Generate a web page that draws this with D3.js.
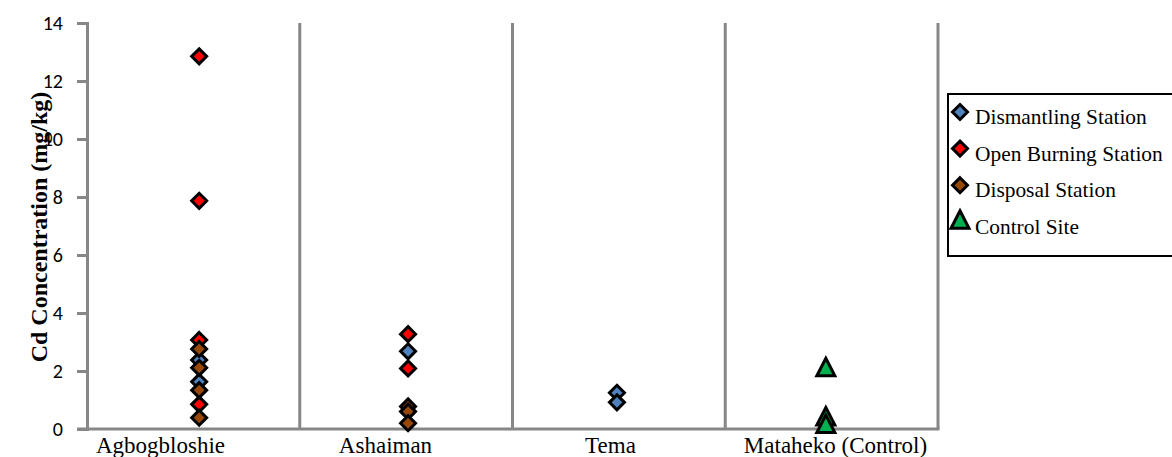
<!DOCTYPE html>
<html>
<head>
<meta charset="utf-8">
<script src="https://cdn.jsdelivr.net/npm/d3@7"></script>
<style>
  html, body { margin: 0; padding: 0; background: #fff; }
  svg { display: block; }
</style>
</head>
<body>
<svg id="chart" width="1172" height="457"></svg>
<script>
// ---- data ----
const categories = ["Agbogbloshie", "Ashaiman", "Tema", "Mataheko (Control)"];
const yTicks = [0, 2, 4, 6, 8, 10, 12, 14];
const seriesNames = ["Dismantling Station", "Open Burning Station", "Disposal Station", "Control Site"];
const seriesColors = ["#4F81BD", "#FF0000", "#974706", "#00B050"];
const seriesShapes = ["diamond", "diamond", "diamond", "triangle"];
// Cd values (mg/kg) per category, one array per series
const dismantlingCd = [[2.38, 1.63], [2.68], [1.25, 0.92], []];
const openBurningCd = [[12.85, 7.87, 3.07, 0.85], [3.27, 2.09], [], []];
const disposalCd    = [[2.76, 2.11, 1.34, 0.39], [0.78, 0.6, 0.2], [], []];
const controlCd     = [[], [], [], [2.06, 0.36, 0.1]];
const seriesValues = [dismantlingCd, openBurningCd, disposalCd, controlCd];

// ---- layout ----
const svg = d3.select("#chart");
const mLeft = 87, mRight = 938, mTop = 23, mBottom = 429;
const gray = "#878787";
const serif = "'Liberation Serif', 'Times New Roman', serif";

const y = d3.scaleLinear().domain([0, 14]).range([mBottom, mTop]);
const xBand = d3.scaleBand().domain(categories).range([mLeft, mRight]).padding(0);
const xPt = d3.scalePoint().domain(categories).range([mLeft, mRight]).padding(0.537);
const xLabel = d3.scaleBand().domain(categories).range([48, 948]).padding(0);

// separators (category boundaries)
svg.append("g").selectAll("line")
  .data(categories)
  .join("line")
  .attr("x1", d => xBand(d) + xBand.bandwidth())
  .attr("x2", d => xBand(d) + xBand.bandwidth())
  .attr("y1", mTop).attr("y2", mBottom)
  .attr("stroke", gray).attr("stroke-width", 3);

// y axis
const yAxis = d3.axisLeft(y).tickValues(yTicks).tickSize(10).tickPadding(14).tickFormat(d3.format("d"));
const gy = svg.append("g").attr("transform", `translate(${mLeft},0)`).call(yAxis);
gy.select(".domain").attr("stroke", gray).attr("stroke-width", 3);
gy.selectAll(".tick line").attr("stroke", gray).attr("stroke-width", 3);
gy.selectAll(".tick text")
  .attr("fill", "#000")
  .style("font-family", "Carlito, Lato, 'Open Sans', sans-serif")
  .style("font-size", "20px");

// x axis line
svg.append("line")
  .attr("x1", mLeft - 10).attr("x2", mRight + 1.5)
  .attr("y1", mBottom).attr("y2", mBottom)
  .attr("stroke", gray).attr("stroke-width", 3);

// x labels
svg.append("g").selectAll("text")
  .data(categories)
  .join("text")
  .attr("x", d => xLabel(d) + xLabel.bandwidth() / 2)
  .attr("y", 453)
  .attr("text-anchor", "middle")
  .style("font-family", serif)
  .style("font-size", "23px")
  .text(d => d);

// y title
svg.append("text")
  .attr("transform", "translate(47,227) rotate(-90)")
  .attr("text-anchor", "middle")
  .style("font-family", serif)
  .style("font-size", "24px")
  .style("font-weight", "bold")
  .text("Cd Concentration (mg/kg)");

// markers
function shapePath(shape) {
  if (shape === "triangle") {
    return "M0,-11 L9,6.5 L-9,6.5 Z";
  }
  return "M0,-7.5 L7.5,0 L0,7.5 L-7.5,0 Z";
}

const points = [];
seriesValues.forEach((vals, si) => {
  vals.forEach((arr, ci) => {
    arr.forEach(v => points.push({ s: si, cat: categories[ci], v }));
  });
});

svg.append("g").selectAll("path")
  .data(points)
  .join("path")
  .attr("d", d => shapePath(seriesShapes[d.s]))
  .attr("transform", d => `translate(${xPt(d.cat)},${y(d.v)})`)
  .attr("fill", d => seriesColors[d.s])
  .attr("stroke", "#000")
  .attr("stroke-width", 3)
  .attr("stroke-linejoin", "miter");

// legend
const lg = svg.append("g");
lg.append("rect")
  .attr("x", 948).attr("y", 94).attr("width", 240).attr("height", 162)
  .attr("fill", "#fff").attr("stroke", "#000").attr("stroke-width", 2);
const items = lg.selectAll("g.item")
  .data(seriesNames)
  .join("g")
  .attr("class", "item")
  .attr("transform", (d, i) => `translate(960,${112 + i * 36.6})`);
items.append("path")
  .attr("d", (d, i) => shapePath(seriesShapes[i]))
  .attr("fill", (d, i) => seriesColors[i])
  .attr("stroke", "#000").attr("stroke-width", 3);
items.append("text")
  .attr("x", 15).attr("y", 12)
  .style("font-family", serif)
  .style("font-size", "21.4px")
  .text(d => d);
</script>
</body>
</html>
